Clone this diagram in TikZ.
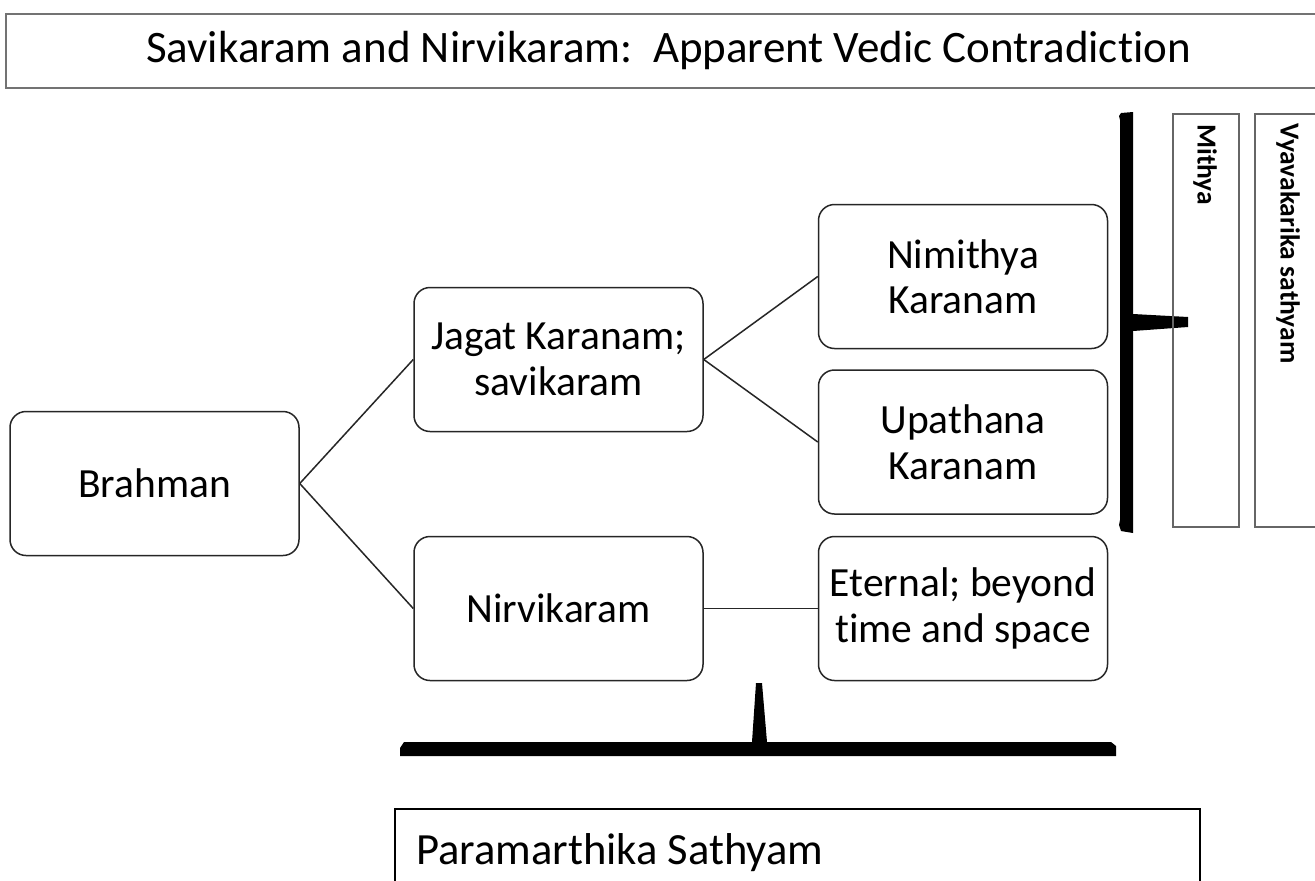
\documentclass[tikz,border=0pt]{standalone}
\usepackage{fontspec}
\setmainfont{Carlito}[Ligatures=NoCommon]
\begin{document}
\begin{tikzpicture}[x=1pt,y=-1pt,
  rbox/.style={draw=black!85, line width=1.5pt, rounded corners=16pt, minimum width=289pt, minimum height=144pt, align=center, inner sep=0pt, font=\fontsize{41.5}{45.5}\selectfont},
  conn/.style={draw=black!85, line width=1.5pt},
  sidebox/.style={draw=black!60, line width=1.6pt, minimum width=66pt, minimum height=413pt, anchor=north west, inner sep=0pt},
  sidetext/.style={rotate=-90, anchor=west, font=\fontsize{27.5}{30}\selectfont\bfseries, inner sep=0pt},
  brace/.style={fill=black, draw=none}
]
\clip (0,0) rectangle (1315,881);
\fill[white] (0,0) rectangle (1315,881);

% title
\node[draw=black!55, line width=2pt, minimum width=1325pt, minimum height=74pt, anchor=north west, inner sep=0pt, font=\fontsize{45}{50}\selectfont] (title) at (5,13) {\raisebox{-3pt}{Savikaram and Nirvikaram:\ \ Apparent Vedic Contradiction}};

% main boxes
\node[rbox] (brahman) at (154.5,483.5) {Brahman};
\node[rbox] (jagat) at (558.5,359.5) {Jagat Karanam;\\savikaram};
\node[rbox] (nirvi) at (558.5,608.5) {Nirvikaram};
\node[rbox] (nimi) at (963,276.5) {Nimithya\\Karanam};
\node[rbox] (upa) at (963,442) {Upathana\\Karanam};
\node[rbox] (eter) at (963,608.5) {Eternal; beyond\\time and space};

% connectors
\draw[conn] (brahman.east) -- (jagat.west);
\draw[conn] (brahman.east) -- (nirvi.west);
\draw[conn] (jagat.east) -- (nimi.west);
\draw[conn] (jagat.east) -- (upa.west);
\draw[conn] (nirvi.east) -- (eter.west);

% vertical brace
\fill[brace] (1121,113) -- (1133,112) -- (1133,314) -- (1188,317) -- (1188,327) -- (1133,331) -- (1133,533) -- (1121,531) -- (1119,525) -- (1120,520) -- (1120,120) -- (1119,116) -- cycle;

% side boxes
\node[sidebox] (mithya) at (1172,113) {};
\node[sidetext] (mithyat) at (1205,124) {Mithya};
\node[sidebox, minimum width=70pt] (vyava) at (1254,113) {};
\node[sidetext] (vyavat) at (1288,123) {Vyavakarika sathyam};

% bottom brace
\fill[brace] (404,742) -- (752,742) -- (756,683) -- (762,683) -- (767,742) -- (1111,742) -- (1116,746) -- (1116,756) -- (400,756) -- (400,748) -- cycle;

% bottom box
\node[draw=black, line width=2pt, minimum width=805pt, minimum height=120pt, anchor=north west, inner sep=0pt] (param) at (394,808) {};
\node[anchor=base west, inner sep=0pt, font=\fontsize{44.6}{50}\selectfont] (paramt) at (416,864) {Paramarthika Sathyam};
\end{tikzpicture}
\end{document}
